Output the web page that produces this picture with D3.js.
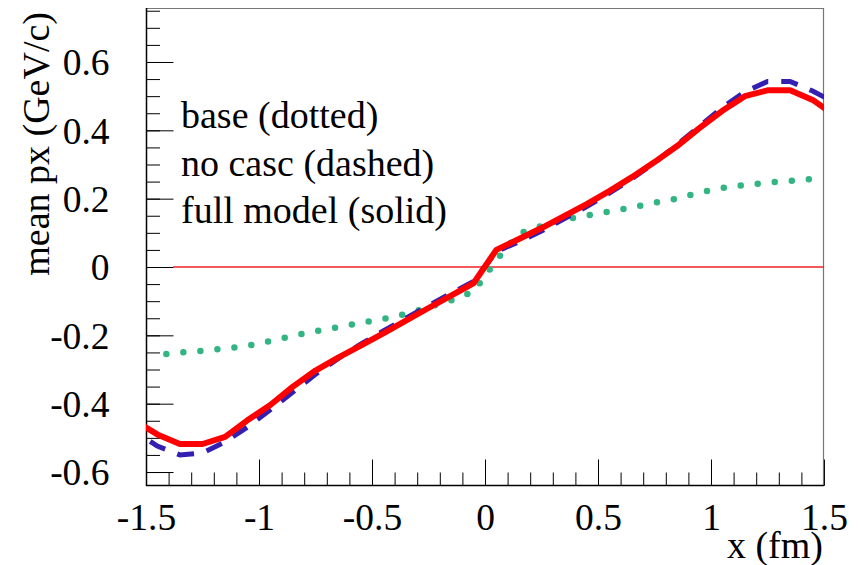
<!DOCTYPE html>
<html>
<head>
<meta charset="utf-8">
<script src="https://cdn.jsdelivr.net/npm/d3@7"></script>
<style>
    body { margin: 0; background: #fff; }
</style>
</head>
<body>
<script>
// bin centres (fm)
const xBins = [-1.55, -1.45, -1.35, -1.25, -1.15, -1.05, -0.95, -0.85, -0.75, -0.65, -0.55, -0.45, -0.35, -0.25, -0.15, -0.05,
    0.05, 0.15, 0.25, 0.35, 0.45, 0.55, 0.65, 0.75, 0.85, 0.95, 1.05, 1.15, 1.25, 1.35, 1.45, 1.55];

// mean px (GeV/c)
const baseVals = [null, -0.258, -0.250, -0.245, -0.239, -0.230, -0.217, -0.201, -0.188, -0.176, -0.163, -0.152, -0.137, -0.118, -0.098, -0.072,
    0.020, 0.098, 0.120, 0.139, 0.151, 0.162, 0.174, 0.188, 0.200, 0.218, 0.231, 0.240, 0.247, 0.252, 0.258, null];
const noCascVals = [-0.480, -0.524, -0.550, -0.544, -0.512, -0.468, -0.418, -0.366, -0.314, -0.268, -0.226, -0.187, -0.150, -0.113, -0.077, -0.042,
    0.045, 0.074, 0.105, 0.141, 0.177, 0.216, 0.258, 0.305, 0.358, 0.412, 0.467, 0.513, 0.543, 0.543, 0.515, 0.480];
const fullVals = [-0.450, -0.490, -0.518, -0.518, -0.497, -0.448, -0.404, -0.350, -0.303, -0.265, -0.230, -0.194, -0.157, -0.120, -0.084, -0.047,
    0.050, 0.082, 0.114, 0.149, 0.184, 0.222, 0.263, 0.307, 0.354, 0.407, 0.457, 0.500, 0.517, 0.517, 0.489, 0.442];

const xTicks = [-1.5, -1, -0.5, 0, 0.5, 1, 1.5];
const yTicks = [-0.6, -0.4, -0.2, 0, 0.2, 0.4, 0.6];
const legendLabels = ['base (dotted)', 'no casc (dashed)', 'full model (solid)'];

const width = 861, height = 565;
const frame = {left: 146, right: 824, top: 8, bottom: 485};
const fontFamily = '"Liberation Serif", "DejaVu Serif", serif';

const svg = d3.select('body').append('svg')
    .attr('width', width)
    .attr('height', height)
    .style('font-family', fontFamily);

const x = d3.scaleLinear().domain([-1.5, 1.5]).range([frame.left, frame.right]);
const y = d3.scaleLinear().domain([-0.638, 0.758]).range([frame.bottom, frame.top]);

svg.append('clipPath').attr('id', 'frameClip')
    .append('rect')
    .attr('x', frame.left).attr('y', frame.top)
    .attr('width', frame.right - frame.left).attr('height', frame.bottom - frame.top);

// minor ticks first, then major with labels
const xMinor = d3.range(-15, 16).map((i) => i / 10);
const yMinor = d3.range(-12, 16).map((i) => i / 20);

svg.append('g')
    .attr('transform', `translate(0, ${frame.bottom + 0.5})`)
    .call(d3.axisBottom(x).tickValues(xMinor).tickSize(-13).tickFormat(''))
    .call((g) => g.select('.domain').remove());

svg.append('g')
    .attr('transform', `translate(${frame.left + 0.5}, 0)`)
    .call(d3.axisLeft(y).tickValues(yMinor).tickSize(-13.5).tickFormat(''))
    .call((g) => g.select('.domain').remove());

const xAxisGroup = svg.append('g')
    .attr('transform', `translate(0, ${frame.bottom + 0.5})`)
    .call(d3.axisBottom(x).tickValues(xTicks).tickSize(-26).tickPadding(18).tickFormat((d) => String(d)))
    .call((g) => g.select('.domain').remove());

const yAxisGroup = svg.append('g')
    .attr('transform', `translate(${frame.left + 0.5}, 0)`)
    .call(d3.axisLeft(y).tickValues(yTicks).tickSize(-27).tickPadding(37).tickFormat((d) => String(d)))
    .call((g) => g.select('.domain').remove());

svg.selectAll('g').attr('font-family', null).attr('font-size', null);
svg.selectAll('.tick text')
    .style('font-family', fontFamily)
    .style('font-size', '37.5px')
    .attr('fill', '#000');
yAxisGroup.selectAll('.tick text').attr('dy', '0.34em');

// frame
svg.append('line').attr('x1', frame.left).attr('x2', frame.right).attr('y1', frame.top + 0.5).attr('y2', frame.top + 0.5)
    .attr('stroke', '#777').attr('stroke-width', 1.2);
svg.append('line').attr('x1', frame.right - 0.5).attr('x2', frame.right - 0.5).attr('y1', frame.top).attr('y2', frame.bottom)
    .attr('stroke', '#777').attr('stroke-width', 1.2);
svg.append('line').attr('x1', frame.left + 0.5).attr('x2', frame.left + 0.5).attr('y1', frame.top).attr('y2', frame.bottom + 1)
    .attr('stroke', '#000').attr('stroke-width', 1.5);
svg.append('line').attr('x1', frame.left).attr('x2', frame.right).attr('y1', frame.bottom + 0.5).attr('y2', frame.bottom + 0.5)
    .attr('stroke', '#000').attr('stroke-width', 1.5);

// zero line
svg.append('line')
    .attr('x1', frame.left + 27).attr('x2', frame.right)
    .attr('y1', y(0)).attr('y2', y(0))
    .attr('stroke', '#f02020').attr('stroke-width', 1.4);

const plot = svg.append('g').attr('clip-path', 'url(#frameClip)');

const makeLine = (vals) => d3.line()
    .defined((d, i) => vals[i] !== null)
    .x((d, i) => x(xBins[i]))
    .y((d, i) => y(vals[i]));

plot.append('path')
    .attr('d', makeLine(baseVals)(xBins))
    .attr('fill', 'none')
    .attr('stroke', '#33b583')
    .attr('stroke-width', 6.5)
    .attr('stroke-linecap', 'round')
    .attr('stroke-dasharray', '0 17.1')
    .attr('stroke-dashoffset', 8);

plot.append('path')
    .attr('d', makeLine(noCascVals)(xBins))
    .attr('fill', 'none')
    .attr('stroke', '#3420b0')
    .attr('stroke-width', 5)
    .attr('stroke-dasharray', '17 13')
    .attr('stroke-dashoffset', 11.4);

plot.append('path')
    .attr('d', makeLine(fullVals)(xBins))
    .attr('fill', 'none')
    .attr('stroke', '#ff0000')
    .attr('stroke-width', 6)
    .attr('stroke-linejoin', 'round');

// axis titles
svg.append('text')
    .attr('x', 823)
    .attr('y', 558)
    .attr('text-anchor', 'end')
    .style('font-size', '38px')
    .text('x (fm)');

svg.append('text')
    .attr('text-anchor', 'end')
    .attr('transform', 'translate(49, 12) rotate(-90)')
    .style('font-size', '38px')
    .text('mean px (GeV/c)');

// legend text
svg.selectAll('.legend')
    .data(legendLabels)
    .enter()
    .append('text')
    .attr('class', 'legend')
    .attr('x', 181)
    .attr('y', (d, i) => 128 + i * 47.5)
    .style('font-size', '38px')
    .text((d) => d);
</script>
</body>
</html>
